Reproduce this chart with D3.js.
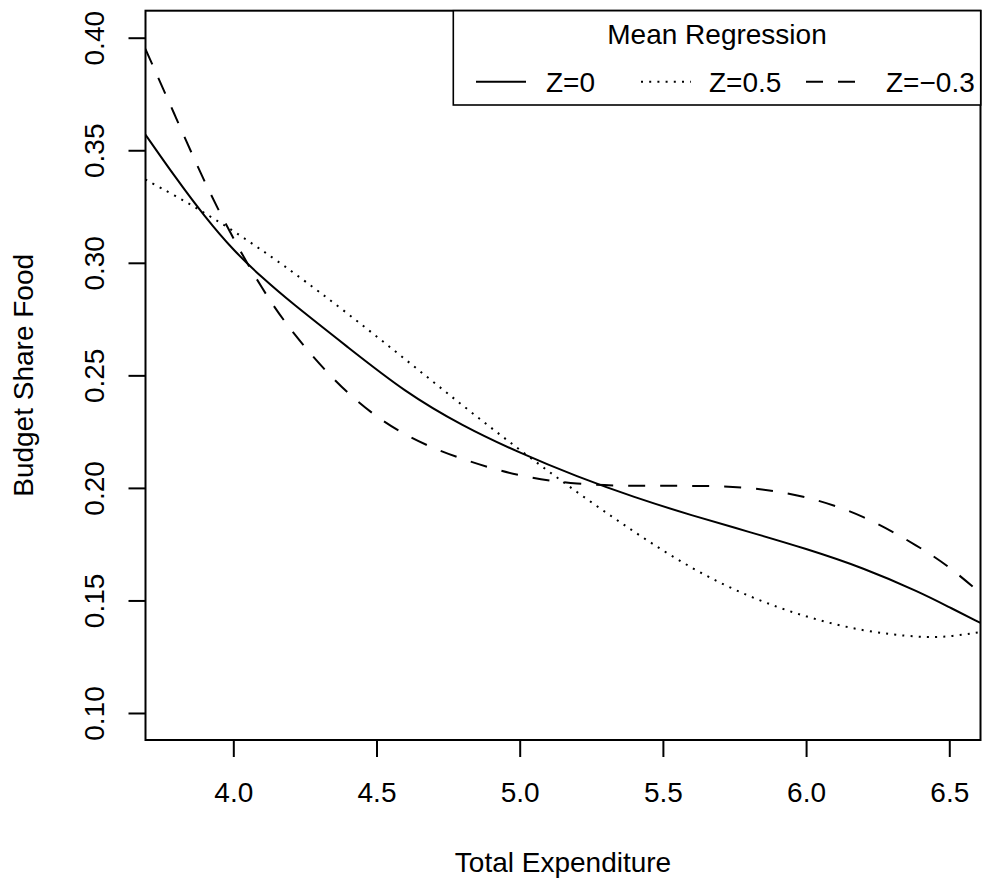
<!DOCTYPE html>
<html>
<head>
<meta charset="utf-8">
<script src="https://cdn.jsdelivr.net/npm/d3@7"></script>
<style>
  html, body { margin: 0; padding: 0; background: #fff; }
  svg { display: block; font-family: "Liberation Sans", Arial, Helvetica, sans-serif; }
</style>
</head>
<body>
<svg id="chart" width="984" height="883"></svg>
<script>
// Log total expenditure grid at which the fitted budget shares are evaluated
const expenditure = [3.693, 3.8, 3.9, 4.0, 4.1, 4.2, 4.4, 4.6, 4.8, 5.0, 5.2, 5.4, 5.6, 5.8, 6.0, 6.2, 6.4, 6.5, 6.609];

// Fitted food budget share for each value of the covariate Z
const shareZ0    = [0.357, 0.3375, 0.3205, 0.3055, 0.2935, 0.2825, 0.2625, 0.2425, 0.2275, 0.2155, 0.2050, 0.1958, 0.1878, 0.1805, 0.1730, 0.1645, 0.1535, 0.1470, 0.140];
const shareZ05   = [0.337, 0.3296, 0.3222, 0.3142, 0.3056, 0.2967, 0.2775, 0.2572, 0.2366, 0.2168, 0.1980, 0.1803, 0.1640, 0.1515, 0.1425, 0.1362, 0.1335, 0.1338, 0.136];
const shareZm03  = [0.395, 0.3645, 0.3355, 0.3105, 0.2885, 0.2695, 0.2405, 0.2225, 0.2125, 0.2050, 0.2015, 0.2008, 0.2010, 0.2005, 0.1965, 0.1880, 0.1735, 0.1650, 0.1532];

const seriesLabels = ["Z=0", "Z=0.5", "Z=\u22120.3"];
const legendTitle = "Mean Regression";

const xTicks = [4.0, 4.5, 5.0, 5.5, 6.0, 6.5];
const yTicks = [0.10, 0.15, 0.20, 0.25, 0.30, 0.35, 0.40];

const xLabel = "Total Expenditure";
const yLabel = "Budget Share Food";

// ---- layout ----
const plot = { left: 145.5, right: 980.5, top: 10.7, bottom: 740 };
const fontSize = 28;

const svg = d3.select("#chart");

const x = d3.scaleLinear().domain([3.6934, 6.609]).range([plot.left, plot.right]);
const y = d3.scaleLinear().domain([0.088, 0.412]).range([plot.bottom, plot.top]);

const seriesValues = [shareZ0, shareZ05, shareZm03];
const dashStyles = [null, "2,6.2", "17,15"];

svg.append("defs").append("clipPath").attr("id", "plot-clip")
  .append("rect")
  .attr("x", plot.left).attr("y", plot.top)
  .attr("width", plot.right - plot.left).attr("height", plot.bottom - plot.top);

// smooth regression curves
const line = d3.line()
  .x(d => x(d[0]))
  .y(d => y(d[1]))
  .curve(d3.curveBasis);

const curves = svg.append("g").attr("clip-path", "url(#plot-clip)");
seriesValues.forEach((vals, i) => {
  curves.append("path")
    .datum(expenditure.map((e, j) => [e, vals[j]]))
    .attr("d", line)
    .attr("fill", "none")
    .attr("stroke", "#000")
    .attr("stroke-width", 2)
    .attr("stroke-dasharray", dashStyles[i]);
});

// x axis
const xAxis = svg.append("g")
  .attr("transform", `translate(0,${plot.bottom})`)
  .call(d3.axisBottom(x).tickValues(xTicks).tickFormat(d3.format(".1f")).tickSize(17).tickPadding(25));
xAxis.select(".domain").remove();
xAxis.selectAll(".tick line").attr("stroke", "#000").attr("stroke-width", 2);
xAxis.selectAll(".tick text")
  .attr("font-size", fontSize).attr("fill", "#000")
  .attr("font-family", "Liberation Sans, Arial, sans-serif");

// y axis with labels parallel to the axis
const yAxis = svg.append("g")
  .attr("transform", `translate(${plot.left},0)`)
  .call(d3.axisLeft(y).tickValues(yTicks).tickFormat(d3.format(".2f")).tickSize(17));
yAxis.select(".domain").remove();
yAxis.selectAll(".tick line").attr("stroke", "#000").attr("stroke-width", 2);
yAxis.selectAll(".tick text")
  .attr("font-size", fontSize).attr("fill", "#000")
  .attr("font-family", "Liberation Sans, Arial, sans-serif")
  .attr("transform", "rotate(-90)")
  .attr("x", 0).attr("y", -42).attr("dy", null)
  .attr("text-anchor", "middle");

// plot frame
svg.append("rect")
  .attr("x", plot.left).attr("y", plot.top)
  .attr("width", plot.right - plot.left).attr("height", plot.bottom - plot.top)
  .attr("fill", "none").attr("stroke", "#000").attr("stroke-width", 2);

// axis titles
svg.append("text")
  .attr("x", (plot.left + plot.right) / 2).attr("y", 871.7)
  .attr("text-anchor", "middle").attr("font-size", fontSize)
  .text(xLabel);

svg.append("text")
  .attr("transform", `translate(33,${(plot.top + plot.bottom) / 2}) rotate(-90)`)
  .attr("text-anchor", "middle").attr("font-size", fontSize)
  .text(yLabel);

// legend (top right, single row)
const legend = { left: 453.3, right: 980.7, top: 10.7, bottom: 105 };
const lg = svg.append("g");
lg.append("rect")
  .attr("x", legend.left).attr("y", legend.top)
  .attr("width", legend.right - legend.left).attr("height", legend.bottom - legend.top)
  .attr("fill", "#fff").attr("stroke", "#000").attr("stroke-width", 1.6);

lg.append("text")
  .attr("x", (legend.left + legend.right) / 2).attr("y", 43.5)
  .attr("text-anchor", "middle").attr("font-size", fontSize)
  .text(legendTitle);

const segStart = [476, 641, 806];
const segLen = 50;
const textStart = [546, 709, 886];
const rowY = 81.7;
seriesLabels.forEach((lab, i) => {
  lg.append("line")
    .attr("x1", segStart[i]).attr("x2", segStart[i] + segLen)
    .attr("y1", rowY).attr("y2", rowY)
    .attr("stroke", "#000").attr("stroke-width", 2)
    .attr("stroke-dasharray", dashStyles[i]);
  lg.append("text")
    .attr("x", textStart[i]).attr("y", rowY + 10.5)
    .attr("font-size", fontSize)
    .text(lab);
});
</script>
</body>
</html>
